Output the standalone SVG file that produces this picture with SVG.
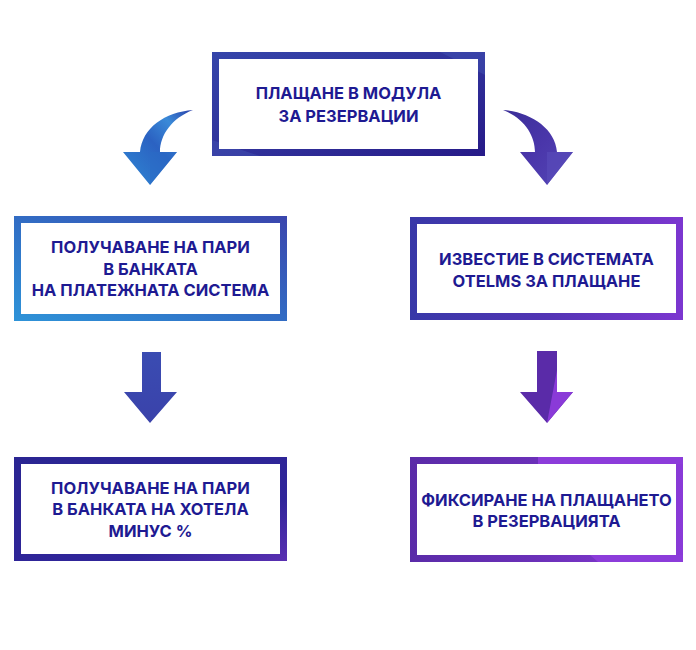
<svg xmlns="http://www.w3.org/2000/svg" width="696" height="650" viewBox="0 0 696 650">
<defs>
<linearGradient id="gTop" x1="0" y1="0" x2="1" y2="1"><stop offset="0" stop-color="#3545aa"/><stop offset="0.6" stop-color="#2f2e98"/><stop offset="1" stop-color="#261a88"/></linearGradient>
<linearGradient id="gL2" x1="0" y1="1" x2="1" y2="0"><stop offset="0" stop-color="#2e93d8"/><stop offset="0.45" stop-color="#3170c6"/><stop offset="1" stop-color="#3a45ad"/></linearGradient>
<linearGradient id="gR2" x1="0" y1="0" x2="1" y2="0"><stop offset="0" stop-color="#3838a8"/><stop offset="0.5" stop-color="#5234b4"/><stop offset="1" stop-color="#7c36d0"/></linearGradient>
<linearGradient id="gL3" x1="0" y1="0" x2="1" y2="1"><stop offset="0" stop-color="#2a2592"/><stop offset="0.7" stop-color="#30259a"/><stop offset="1" stop-color="#5a30b2"/></linearGradient>
<linearGradient id="gR3" x1="0" y1="0" x2="1" y2="0"><stop offset="0" stop-color="#5a2ba8"/><stop offset="0.45" stop-color="#6a30b8"/><stop offset="1" stop-color="#8a3ad8"/></linearGradient>
<linearGradient id="gArrL" x1="1" y1="0" x2="0" y2="1"><stop offset="0" stop-color="#2a3ea8"/><stop offset="0.25" stop-color="#3a8ad8"/><stop offset="0.5" stop-color="#2b62c2"/><stop offset="1" stop-color="#2f88d4"/></linearGradient>
<linearGradient id="gArrR" x1="0" y1="0" x2="1" y2="1"><stop offset="0" stop-color="#3a2e98"/><stop offset="0.5" stop-color="#4a36aa"/><stop offset="1" stop-color="#5446b6"/></linearGradient>
<linearGradient id="gArrM1" x1="0" y1="0" x2="0" y2="1"><stop offset="0" stop-color="#3a4cb2"/><stop offset="1" stop-color="#3a42aa"/></linearGradient>
<linearGradient id="gArrM2" x1="0" y1="0" x2="1" y2="0"><stop offset="0" stop-color="#5a2ba8"/><stop offset="1" stop-color="#8a3ad8"/></linearGradient>
</defs>
<style>
.inner{fill:#ffffff}
.t{font-family:"Inter","Liberation Sans",sans-serif;font-weight:700;font-size:16.5px;fill:#1e1a92;text-anchor:middle}
.facet{opacity:0.35}
</style>
<rect width="696" height="650" fill="#ffffff"/>

<g id="connectors">
<path d="M193,110 C165,112 142,128 140,152 L123,152 L150,185 L177,152 L160,152 C160,135 172,118 193,110 Z" fill="url(#gArrL)"/>
<path d="M150,152 L177,152 L150,185 Z" fill="#2a6cc6" opacity="0.5"/>
<path d="M503,110 C530,112 555,128 557,152 L573,152 L547,185 L520,152 L535,152 C535,135 524,118 503,110 Z" fill="url(#gArrR)"/>
<path d="M547,152 L573,152 L547,185 Z" fill="#5a4cba" opacity="0.6"/>
<polygon points="142,352 161,352 161,392 177,392 150,423 124,392 142,392" fill="url(#gArrM1)"/>
<polygon points="537,351 557,351 557,392 573,392 547,423 520,392 537,392" fill="#5a2ba8"/>
<polygon points="557,370 557,392 573,392 547,423" fill="#8a3ad8"/>
</g>

<g id="node-top">
<rect x="212" y="52" width="273" height="104" fill="url(#gTop)"/>
<polygon points="440,52 485,52 485,75" fill="#4a62bc" class="facet"/>
<polygon points="212,140 260,156 212,156" fill="#4a62bc" class="facet"/>
<rect x="219" y="59" width="259" height="90" class="inner"/>
<text class="t" x="348.5" y="99">ПЛАЩАНЕ В МОДУЛА</text>
<text class="t" x="348.5" y="122">ЗА РЕЗЕРВАЦИИ</text>
</g>

<g id="node-left-2">
<rect x="14" y="216" width="273" height="105" fill="url(#gL2)"/>
<rect x="21" y="223" width="259" height="91" class="inner"/>
<text class="t" x="150.5" y="253">ПОЛУЧАВАНЕ НА ПАРИ</text>
<text class="t" x="150.5" y="275">В БАНКАТА</text>
<text class="t" x="150.5" y="296">НА ПЛАТЕЖНАТА СИСТЕМА</text>
</g>

<g id="node-right-2">
<rect x="410" y="217" width="273" height="103" fill="url(#gR2)"/>
<rect x="417" y="224" width="259" height="89" class="inner"/>
<text class="t" x="546.5" y="265">ИЗВЕСТИЕ В СИСТЕМАТА</text>
<text class="t" x="546.5" y="287">OTELMS ЗА ПЛАЩАНЕ</text>
</g>

<g id="node-left-3">
<rect x="14" y="457" width="273" height="104" fill="url(#gL3)"/>
<rect x="21" y="464" width="259" height="90" class="inner"/>
<text class="t" x="150.5" y="494">ПОЛУЧАВАНЕ НА ПАРИ</text>
<text class="t" x="150.5" y="515">В БАНКАТА НА ХОТЕЛА</text>
<text class="t" x="150.5" y="537">МИНУС %</text>
</g>

<g id="node-right-3">
<rect x="410" y="457" width="273" height="105" fill="url(#gR3)"/>
<polygon points="538,457 683,457 683,464 538,464" fill="#8c3cda"/>
<polygon points="590,555 683,555 683,562 598,562" fill="#8c3cda"/>
<rect x="417" y="464" width="259" height="91" class="inner"/>
<text class="t" x="546.5" y="506">ФИКСИРАНЕ НА ПЛАЩАНЕТО</text>
<text class="t" x="546.5" y="527">В РЕЗЕРВАЦИЯТА</text>
</g>
</svg>
